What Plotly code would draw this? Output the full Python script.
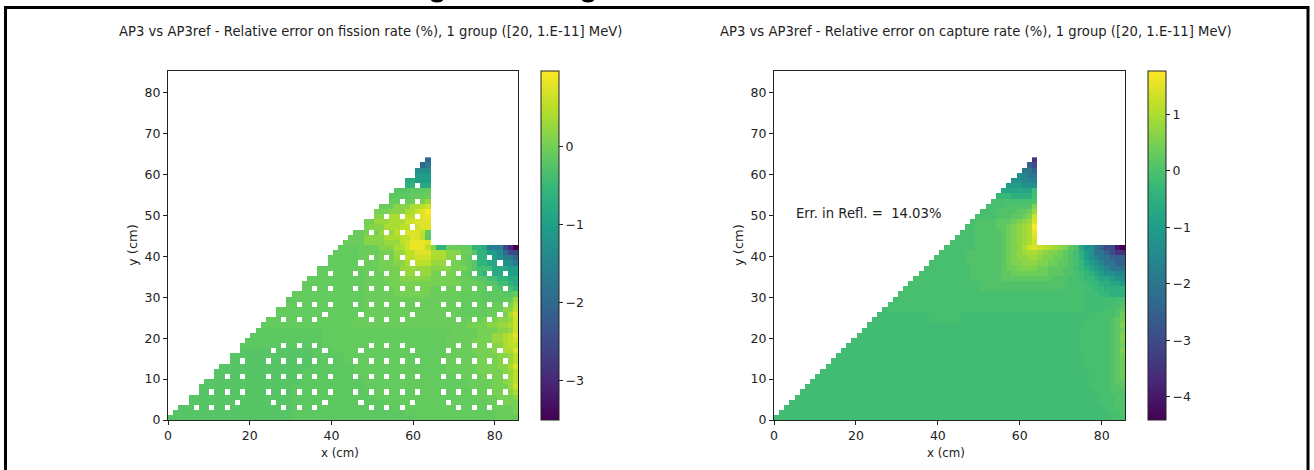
import re
import plotly.graph_objects as go

W, H = 1314, 470
CELL_CM = 1.26
N_COLS = 68
N_ROWS = 51

FISSION_LEVELS = dict(a=-3.5, b=-3.0, c=-2.5, d=-2.0, e=-1.6, f=-1.3, g=-1.0, h=-0.8, i=-0.6,
                      j=-0.4, k=-0.22, l=-0.17, m=-0.12, n=-0.07, o=0.03, p=0.15, q=0.27, r=0.4,
                      s=0.52, t=0.63, u=0.74, v=0.85, w=0.95)
CAPTURE_LEVELS = dict(a=-4.41, b=-4.0, c=-3.5, d=-3.0, e=-2.5, f=-2.0, g=-1.6, h=-1.3, i=-1.0,
                      j=-0.75, k=-0.5, l=-0.3, m=-0.14, n=-0.06, o=0.05, p=0.2, q=0.38, r=0.55,
                      s=0.7, t=0.85, u=1.0, v=1.15, w=1.3, x=1.45, y=1.6, z=1.77)

# Cell codes, run-length written, from the top row (y about 64 cm) down to y = 0.
FISSION_ROWS = [
    "50l 1d",
    "49l 1d 1e",
    "48l 3f",
    "48l 3g",
    "46h 2h 3g",
    "46i 2i 1l 2h",
    "44j 3k 3l 1m",
    "43k 4l 3m 1n",
    "42l 3m 3n 2o 1q",
    "41m 3n 3p 2r 1s 1t",
    "40n 3o 3p 2r 1t 1u 1w",
    "38n 2o 3p 3r 2s 1t 1u 1v",
    "38n 2o 3q 3r 2t 3u",
    "36n 3o 3p 3r 2s 2t 2u",
    "35m 3n 3o 3q 2s 2u 1u 1s 1m",
    "34m 4n 4p 3r 2s 2u 1s 1l",
    "33m 5n 4p 3q 1s 1t 3v 1u 1r",
    "32l 5m 4n 3p 2r 1t 3v 1s 1p 2i 3n 2m 2i 1h 3e 1c 1b 1a",
    "31l 6m 4n 3o 2q 2s 3u 3r 3p 2n 1k 2i 2g 1f 1d 1c 1c",
    "29l 8m 4n 3o 2q 2s 3t 3r 3p 1n 1m 1j 2i 1h 1g 1f 1e 1e 1d",
    "29l 8m 4n 3o 2p 2r 3s 3q 3o 1n 1m 1k 2i 2h 1g 1f 1f 1e",
    "29l 8m 4n 4o 6q 4p 3o 1m 1k 3j 3h 2g",
    "28l 10m 4n 3o 6q 5o 1n 1m 1l 1k 1j 2i 2h 1g 2g",
    "26l 12m 4n 3o 6p 5o 2n 1m 1l 2k 2j 2i 2h",
    "26l 12m 5n 8o 6o 3n 1m 1l 2k 2j 1i 1h",
    "25l 13m 6n 7o 6n 3n 2m 2l 2k 1j 1i",
    "24l 14m 6n 7o 6n 4m 4l 2k 1m",
    "24l 14m 19n 4m 4l 2m 1q",
    "20l 18m 19n 6m 2n 2o 1r",
    "20l 18m 19n 5m 3n 2p 1s",
    "20l 18m 18n 6m 3n 1o 1r 1u",
    "18l 18m 20n 5n 3o 2p 1q 1t",
    "18l 18m 22n 4o 2p 2q 1r 1t",
    "30l 25m 5n 4o 2p 1q 1t",
    "30l 24m 6n 3o 2q 1r 1s 1u",
    "30l 24m 5n 4o 2q 1r 1s 1t",
    "30l 24m 5n 4o 2p 1r 2s",
    "28k 4l 22m 5n 4o 2p 2r 1u",
    "28k 6l 20m 6n 4o 2p 1q 1s",
    "28k 6l 20m 6n 4o 2p 1q 1s",
    "28k 8l 18m 6n 4o 2p 1r 1u",
    "26k 10l 18m 6n 5o 1p 1q 1s",
    "26k 10l 20m 5n 4o 1p 1q 1s",
    "26k 12l 20m 5n 2o 1p 1q 1s",
    "24k 14l 20m 5n 2o 1o 1q 1t",
    "24k 16l 19m 4n 2o 1o 1p 1r",
    "24k 16l 20m 4n 2o 1o 1p 1q",
    "24k 18l 20m 3n 3o",
    "24k 20l 18m 4n 1n 1o",
    "24k 22l 18m 3n 1o",
    "24k 24l 16m 3n 1m",
]
CAPTURE_ROWS = [
    "50m 1c",
    "49m 1e 1d",
    "48m 2f 1e",
    "47m 1h 1g 2f",
    "46i 2h 3g",
    "45j 1i 2i 3h",
    "44k 3j 3j 1m",
    "43l 3l 3k 1k 1m",
    "50n 1o",
    "41n 4n 2o 1o 1o 1o 1r",
    "40n 3n 2o 1o 1o 1p 1p 1q 1t",
    "39m 4n 2o 1o 1p 1p 1q 1r 1w",
    "38m 1n 4o 2p 1p 1q 1r 1s 1t 1x",
    "37m 2n 4o 1p 1p 1q 1r 1s 1t 1u 1z",
    "36m 3n 5o 1p 1q 1r 1s 1t 1u 1y",
    "35m 4n 5o 1p 1q 1r 1s 1t 1u 1x",
    "34m 5n 5o 1p 1q 1r 1s 1t 1u 1w",
    "33m 6n 5o 1p 1q 1r 1s 1u 1w 1x 1w 1v 1u 1t 1s 1r 1p 1o 1j 2h 1f 1e 2d 1b 1a",
    "32m 5n 4o 3o 1p 1q 1r 1s 1t 2u 1t 1s 2r 1q 1p 1o 1m 1k 1i 1h 2f 1e 1d 2c",
    "31m 6n 4o 3o 1p 1q 1r 1s 1s 2t 1s 2r 2q 1p 1o 1n 1k 1i 1h 1g 2f 3e",
    "30m 7n 5o 2o 1p 1q 1r 1r 1s 2s 2r 2q 2p 1o 1n 1l 1j 1i 1h 1g 2f 2e",
    "29m 9n 6o 1p 2q 2r 2r 2q 3p 2o 1m 1l 1k 1j 1i 1h 1g 3f",
    "28m 10n 6o 2p 2q 3q 2q 3p 2o 1n 1m 1l 1k 1j 1i 2h 2g",
    "26m 12n 6o 3p 4p 3p 3o 2n 1m 1l 1l 1k 2j 1i 2h",
    "26m 14n 5o 6o 3o 3o 2n 1n 1m 2l 2k 2j 1i",
    "24m 16n 11o 5o 4n 2m 2l 2k 2k",
    "24m 16n 11n 9n 3m 2l 2k 1k",
    "24m 36n 5m 1m 1n 1n",
    "22m 38n 5m 1n 1n 1o",
    "22m 38n 4m 2n 1o 1p",
    "30m 6n 25m 3n 2n 1o 1q",
    "30m 6n 24m 3n 2n 1o 1p 1q",
    "60m 3n 2n 1o 1p 1r",
    "59m 3n 3n 1o 1p 1q",
    "59m 3n 3n 1o 1p 1r",
    "59m 3n 3n 1o 1p 1r",
    "59m 3n 3n 1o 1p 1q",
    "59m 3n 3n 1o 1p 1r",
    "60m 2n 3n 1o 1p 1q",
    "60m 3n 2n 1o 1p 1q",
    "60m 3n 2n 1o 1p 1q",
    "61m 2n 2n 1o 1p 1q",
    "61m 2n 2n 1o 1p 1q",
    "61m 3n 1n 1o 1p 1p",
    "61m 3n 1n 1o 1o 1p",
    "62m 3n 1o 1o 1o",
    "63m 2n 1n 1o 1o",
    "63m 3n 1o 1o",
    "64m 2n 1o 1o",
    "65m 2n 1o",
    "65m 3n",
]

# Filled cells per column, counted from y = 0.
FISSION_TOP = [1, 2, 3, 3, 5, 5, 7, 8, 8, 10, 11, 11, 13, 13, 15, 16, 17, 18, 19, 20, 20, 22, 22, 24,
               25, 25, 27, 28, 28, 30, 30, 32, 33, 34, 35, 36, 37, 37, 39, 39, 41, 42, 42, 44, 45, 45,
               47, 47, 49, 50, 51, 34, 34, 34, 34, 34, 34, 34, 34, 34, 34, 34, 34, 34, 34, 34, 34, 34]
CAPTURE_TOP = [1, 2, 3, 4, 5, 6, 7, 8, 9, 10, 11, 12, 13, 14, 15, 16, 17, 18, 19, 20, 21, 22, 23, 24,
               25, 26, 27, 28, 29, 30, 31, 32, 33, 34, 35, 36, 37, 38, 39, 40, 41, 42, 43, 44, 45, 46,
               47, 48, 49, 50, 51, 34, 34, 34, 34, 34, 34, 34, 34, 34, 34, 34, 34, 34, 34, 34, 34, 34]

# Guide-tube holes of the fission map: row index -> column indices.
FISSION_HOLES = {
    2: [5, 8, 11, 22, 25, 28, 39, 42, 45, 56, 59, 62],
    3: [13, 20, 30, 37, 47, 54, 64],
    5: [8, 11, 14, 19, 22, 25, 28, 31, 36, 39, 42, 45, 48, 53, 56, 59, 62, 65],
    8: [11, 14, 19, 22, 25, 28, 31, 36, 39, 42, 45, 48, 53, 56, 59, 62, 65],
    11: [14, 19, 22, 25, 28, 31, 36, 39, 42, 45, 48, 53, 56, 59, 62, 65],
    13: [20, 30, 37, 47, 54, 64],
    14: [22, 25, 28, 39, 42, 45, 56, 59, 62],
    19: [22, 25, 28, 39, 42, 45, 56, 59, 62],
    20: [30, 37, 47, 54, 64],
    22: [25, 28, 31, 36, 39, 42, 45, 48, 53, 56, 59, 62, 65],
    25: [28, 31, 36, 39, 42, 45, 48, 53, 56, 59, 62, 65],
    28: [31, 36, 39, 42, 45, 48, 53, 56, 59, 62, 65],
    30: [37, 47, 54, 64],
    31: [39, 42, 45, 56, 59, 62],
    36: [39, 42, 45],
    37: [47],
    39: [42, 45, 48],
    42: [45, 48],
    45: [48],
}

FISSION_TITLE = "AP3 vs AP3ref - Relative error on fission rate (%), 1 group ([20, 1.E-11] MeV)"
CAPTURE_TITLE = "AP3 vs AP3ref - Relative error on capture rate (%), 1 group ([20, 1.E-11] MeV)"
REFL_NOTE = "Err. in Refl. =\u00a0\u00a014.03%"
AXIS_TICKS = [0, 20, 40, 60, 80]
Y_TICKS = [0, 10, 20, 30, 40, 50, 60, 70, 80]
FISSION_CBAR_TICKS = [-3, -2, -1, 0]
CAPTURE_CBAR_TICKS = [-4, -3, -2, -1, 0, 1]


def decode(rows, levels, tops, holes):
    grid = []
    for k, row in enumerate(rows):
        j = len(rows) - 1 - k
        vals = []
        for count, code in re.findall(r"(\d+)([a-z])", row):
            vals += [levels[code]] * int(count)
        vals += [vals[-1]] * (N_COLS - len(vals))
        vals = vals[:N_COLS]
        for i in range(N_COLS):
            if j >= tops[i] or i in holes.get(j, []):
                vals[i] = None
        grid.append(vals)
    grid.reverse()
    return grid


x_centres = [(i + 0.5) * CELL_CM for i in range(N_COLS)]
y_centres = [(j + 0.5) * CELL_CM for j in range(N_ROWS)]
INK = "#222222"
FONT = "DejaVu Sans"


def px_x(p):
    return p / W


def px_y(p):
    return 1 - p / H


def heat(z, zmin, zmax, xa, ya, cb_left, ticks):
    return go.Heatmap(
        z=z, x=x_centres, y=y_centres, zmin=zmin, zmax=zmax, colorscale="Viridis",
        xaxis=xa, yaxis=ya, hoverongaps=False,
        colorbar=dict(x=px_x(cb_left), xanchor="left", y=px_y(71), yanchor="top", len=349 / H,
                      lenmode="fraction", thickness=18, thicknessmode="pixels", xpad=0, ypad=0,
                      outlinecolor=INK, outlinewidth=1, tickvals=ticks, ticks="outside", ticklen=4,
                      tickwidth=1, tickcolor=INK, tickfont=dict(family=FONT, size=12.5, color=INK)),
    )


fig = go.Figure()
fig.add_trace(heat(decode(FISSION_ROWS, FISSION_LEVELS, FISSION_TOP, FISSION_HOLES), -3.5, 0.97, "x", "y", 541, FISSION_CBAR_TICKS))
fig.add_trace(heat(decode(CAPTURE_ROWS, CAPTURE_LEVELS, CAPTURE_TOP, {}), -4.41, 1.77, "x2", "y2", 1148, CAPTURE_CBAR_TICKS))

axis_common = dict(ticks="outside", ticklen=4, tickwidth=1, tickcolor=INK,
                   showgrid=False, zeroline=False, showline=True, linecolor=INK, linewidth=1,
                   mirror=True, automargin=False, tickfont=dict(family=FONT, size=12.5, color=INK))
title_font = dict(family=FONT, size=13.2, color=INK)
label_font = dict(family=FONT, size=11.8, color=INK)
Y_TOP = 85.38
X_MAX = N_COLS * CELL_CM


def note(text, x, y, font=title_font, angle=0):
    return dict(text=text, xref="paper", yref="paper", x=px_x(x), y=px_y(y), showarrow=False,
                xanchor="center", yanchor="middle", font=font, textangle=angle)


def px_shape(x0, x1, y0, y1, **kw):
    return dict(xref="paper", yref="paper", x0=px_x(x0), x1=px_x(x1), y0=px_y(y0), y1=px_y(y1), **kw)


fig.update_layout(
    width=W, height=H, margin=dict(l=0, r=0, t=0, b=0, autoexpand=False), paper_bgcolor="white",
    plot_bgcolor="white", showlegend=False,
    xaxis=dict(domain=[px_x(168), px_x(518)], range=[0, X_MAX], anchor="y", tickvals=AXIS_TICKS, **axis_common),
    yaxis=dict(domain=[px_y(420), px_y(71)], range=[0, Y_TOP], anchor="x", tickvals=Y_TICKS, **axis_common),
    xaxis2=dict(domain=[px_x(774), px_x(1125)], range=[0, X_MAX], anchor="y2", tickvals=AXIS_TICKS, **axis_common),
    yaxis2=dict(domain=[px_y(420), px_y(71)], range=[0, Y_TOP], anchor="x2", tickvals=Y_TICKS, **axis_common),
    annotations=[
        note(FISSION_TITLE, 370, 31),
        note(CAPTURE_TITLE, 976, 31),
        note("x (cm)", 340, 453, label_font),
        note("x (cm)", 946, 453, label_font),
        note("y (cm)", 132, 245, dict(label_font, size=13), -90),
        note("y (cm)", 738, 245, dict(label_font, size=13), -90),
        dict(text=REFL_NOTE, xref="x2", yref="y2", x=5.0, y=50.4, showarrow=False, xanchor="left",
             yanchor="middle", font=title_font),
    ],
    shapes=[
        px_shape(5.5, 1308, 7.5, 480, type="rect", line=dict(color="black", width=3),
                 fillcolor="rgba(0,0,0,0)", layer="below"),
        px_shape(431, 443, -3, 2.5, type="circle", line=dict(width=0), fillcolor="black"),
        px_shape(582, 594, -3, 2.5, type="circle", line=dict(width=0), fillcolor="black"),
    ],
)
fig.write_html("out.html", config=dict(displayModeBar=False), post_script="document.body.style.margin='0';")
